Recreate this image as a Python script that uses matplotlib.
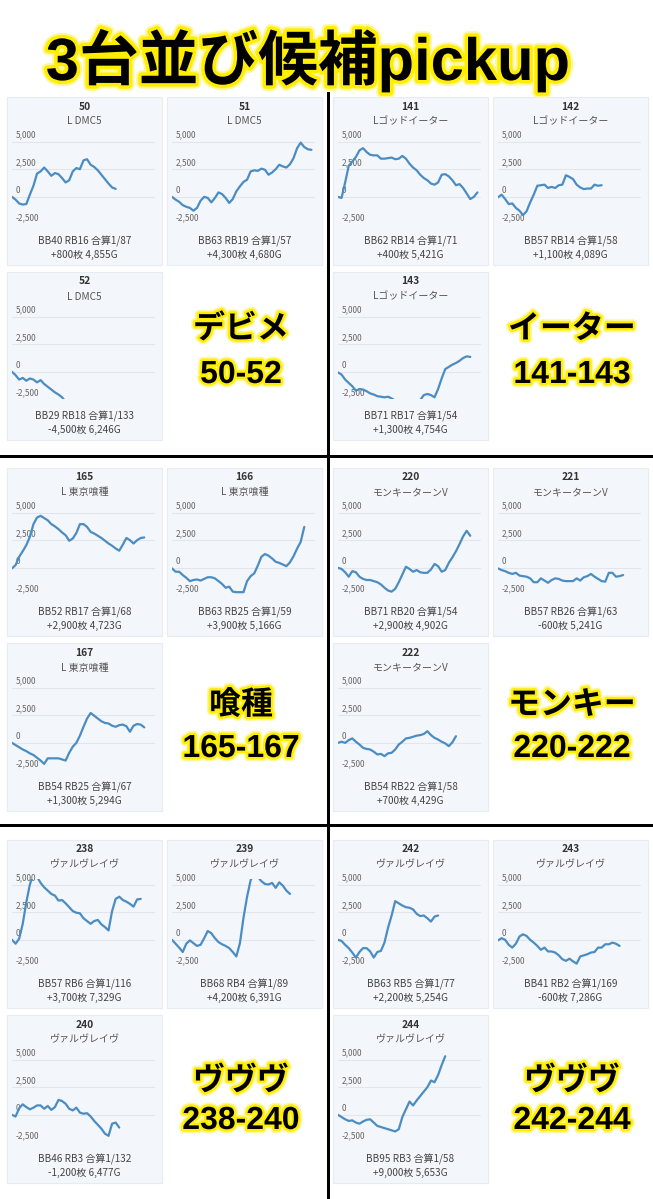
import matplotlib
matplotlib.use('Agg')
import matplotlib.pyplot as plt
import matplotlib.patheffects as pe
from matplotlib.patches import Rectangle
from matplotlib.lines import Line2D

plt.rcParams['font.family'] = ['Noto Sans CJK JP', 'DejaVu Sans']

# ---------------- data ----------------
title = '3台並び候補pickup'

machines = [50, 51, 52, 141, 142, 143, 165, 166, 167,
            220, 221, 222, 238, 239, 240, 242, 243, 244]
models = ['L DMC5'] * 3 + ['Lゴッドイーター'] * 3 + ['L 東京喰種'] * 3 + \
         ['モンキーターンV'] * 3 + ['ヴァルヴレイヴ'] * 6
bb = [40, 63, 29, 62, 57, 71, 52, 63, 54, 71, 57, 54, 57, 68, 46, 63, 41, 95]
rb = [16, 19, 18, 14, 14, 17, 17, 25, 25, 20, 26, 22, 6, 4, 3, 5, 2, 3]
gassan = [87, 57, 133, 71, 58, 54, 68, 59, 67, 54, 63, 58, 116, 89, 132, 77, 169, 58]
diff = [800, 4300, -4500, 400, 1100, 1300, 2900, 3900, 1300,
        2900, -600, 700, 3700, 4200, -1200, 2200, -600, 9000]
games = [4855, 4680, 6246, 5421, 4089, 4754, 4723, 5166, 5294,
         4902, 5241, 4429, 7329, 6391, 6477, 5254, 7286, 5653]

group_names = ['デビメ', 'イーター', '喰種', 'モンキー', 'ヴヴヴ', 'ヴヴヴ']
group_ranges = ['50-52', '141-143', '165-167', '220-222', '238-240', '242-244']

y_ticks = [-2500, 0, 2500, 5000]
y_tick_labels = ['-2,500', '0', '2,500', '5,000']

s50 = [0, -250, -600, -700, -650, 200, 1000, 2100, 2300, 2650, 2300, 1900, 2150, 2050, 1700,
       1300, 1500, 2300, 2600, 2500, 3300, 3400, 2900, 2700, 2400, 2000, 1600, 1200, 850, 720]
s51 = [0, -250, -450, -750, -900, -1000, -1250, -1000, -350, 0, -100, -500, -100, 400, 250,
       -100, -550, -200, 500, 950, 1350, 1550, 2300, 2400, 2350, 2550, 2450, 2000, 2200, 2500,
       2900, 2750, 2650, 2950, 3500, 4400, 4900, 4500, 4300, 4250]
s52 = [0, -300, -700, -550, -800, -600, -700, -950, -750, -1100, -1350, -1600, -1850, -2050,
       -2300, -2700, -3000, -3200, -3100, -3400, -3600, -3500, -3800, -3900, -4000, -4200,
       -4100, -4300, -4500, -4400, -4600, -4500]
s141 = [0, -100, 1300, 2800, 3200, 3600, 4200, 4400, 4050, 3800, 3750, 3750, 3450, 3450, 3500,
        3550, 3400, 3450, 3700, 3450, 3000, 2650, 2400, 2000, 1700, 1500, 1200, 1100, 1300, 2000,
        2050, 1850, 1500, 1050, 1150, 800, 300, -200, 0, 400]
s142 = [-50, 200, -200, -650, -600, -1000, -1250, -1650, -1300, -500, 200, 1000, 1050, 1100,
        800, 900, 800, 1050, 1100, 1950, 1800, 1600, 1100, 850, 700, 750, 750, 1100, 1000, 1050]
s143 = [-50, -250, -700, -1000, -1300, -1700, -1550, -1600, -1750, -1950, -2050, -2200, -2250,
        -2300, -2250, -2400, -2600, -2900, -3100, -3200, -3100, -2900, -2700, -2550, -2100,
        -2000, -2100, -2300, -1550, -600, 250, 450, 650, 800, 1000, 1250, 1400, 1350]
s165 = [-50, 250, 1000, 1500, 2050, 2800, 3950, 4550, 4700, 4500, 4300, 3950, 3750, 3500, 3200,
        2950, 2450, 2650, 3150, 3950, 3950, 3700, 3250, 3100, 2900, 2700, 2450, 2200, 2000, 1750,
        1550, 2100, 2700, 2500, 2200, 2500, 2700, 2750]
s166 = [-50, -350, -350, -650, -900, -1200, -1100, -1050, -1150, -1000, -850, -850, -950, -1200,
        -1450, -1800, -1700, -2150, -2200, -2200, -2200, -1200, -750, -500, 200, 1000, 1250,
        1100, 850, 550, 450, 300, 150, 500, 1050, 1750, 2350, 3700]
s167 = [0, -200, -400, -600, -750, -950, -1100, -1350, -1600, -1900, -1400, -1400, -1400, -1400,
        -1500, -1600, -900, -350, 0, 650, 1450, 2200, 2700, 2450, 2200, 1950, 1800, 1750, 1550,
        1450, 1600, 1650, 1500, 1000, 1550, 1700, 1650, 1400]
s220 = [0, -100, -400, -800, -300, -400, -800, -1000, -1100, -1100, -1200, -1300, -1500, -1800,
        -2050, -2150, -1900, -1300, -600, 100, -100, -350, -200, -400, -450, -450, -150, 350,
        150, -350, -200, 450, 950, 1500, 2150, 2850, 3350, 2900]
s221 = [-50, -200, -300, -450, -550, -450, -700, -750, -800, -950, -1300, -1300, -950, -1150,
        -1350, -1100, -950, -1000, -1150, -1200, -1200, -1200, -950, -1150, -850, -750, -550,
        -800, -1000, -1200, -1250, -450, -450, -800, -750, -650]
s222 = [0, 100, 0, 250, 400, 100, -150, -450, -550, -600, -800, -1050, -1000, -1200, -950, -900,
        -600, -150, 100, 400, 450, 550, 650, 700, 800, 1050, 700, 450, 300, 100, -50, -300, 50, 600]
s238 = [0, -350, 100, 1450, 3400, 5000, 6000, 5700, 5150, 4750, 4450, 4150, 4000, 3550, 3600,
        3300, 2950, 2600, 2450, 2400, 1950, 1700, 1450, 1700, 1800, 1400, 1150, 850, 2600, 3700,
        3900, 3600, 3450, 3250, 3000, 3650, 3700]
s239 = [0, -350, -700, -1100, -350, -50, -300, -550, -450, 150, 800, 600, 150, -200, -400, -550,
        -750, -1100, -1500, -300, 2000, 3900, 5400, 6000, 5700, 5300, 5050, 5000, 5150, 4700,
        5200, 4900, 4450, 4150]
s240 = [0, -150, 600, 950, 700, 500, 650, 850, 850, 550, 800, 450, 700, 1350, 1250, 1000, 550,
        400, 650, 200, 100, 150, -150, -550, -900, -1250, -1700, -1900, -800, -700, -1150]
s242 = [0, -100, -450, -750, -1150, -1600, -1100, -750, -750, -1050, -1600, -1100, -1000, -250,
        1100, 2200, 3500, 3300, 3100, 2950, 2900, 2750, 2350, 2150, 2200, 1950, 1650, 2100, 2200]
s243 = [-50, 150, 0, -450, -700, -350, 300, 500, 350, 0, -250, -550, -900, -700, -1050, -1050,
        -1150, -1400, -1750, -1900, -1700, -1950, -2150, -1500, -1400, -1300, -1150, -1100, -700,
        -700, -400, -400, -250, -350, -550]
s244 = [0, -200, -400, -550, -500, -700, -800, -600, -450, -400, -700, -1000, -1100, -1200,
        -1300, -1400, -1500, -1300, -200, 500, 1200, 850, 1300, 1700, 2100, 2500, 3100, 2950,
        3600, 4500, 5300]

series = [s50, s51, s52, s141, s142, s143, s165, s166, s167,
          s220, s221, s222, s238, s239, s240, s242, s243, s244]

X_STEPS = 40

# ---------------- layout (pixels) ----------------
W, H = 653, 1199
cols_x = [7, 167, 333, 493]
rows_y = [97, 272, 468, 643, 840, 1015]
PW, PH = 155, 168
label_x = [241, 572]
label_y = [(330, 375), (706, 749), (1082, 1121)]

LINE_C = '#4b8dc3'
BG_C = '#f3f6fa'
GRID_C = '#e2e6ec'
BIG_FONT = ['Liberation Sans', 'Noto Sans CJK JP']
GLOW = [pe.withStroke(linewidth=6, foreground='#fff7a0'),
        pe.withStroke(linewidth=3.5, foreground='#ffee00')]


def fx(x):
    return x / W


def fy(y):
    return 1 - y / H


fig = plt.figure(figsize=(W / 100, H / 100), dpi=100)
fig.patch.set_facecolor('white')

# title
fig.text(fx(308), fy(80), title, ha='center', va='baseline', fontsize=43,
         fontweight='bold', color='black', family=BIG_FONT,
         path_effects=[pe.withStroke(linewidth=8, foreground='#fff7a0'),
                       pe.withStroke(linewidth=5, foreground='#ffee00')])


def draw_panel(i, x, y):
    fig.add_artist(Rectangle((fx(x), fy(y + PH)), PW / W, PH / H, transform=fig.transFigure,
                             facecolor=BG_C, edgecolor='#e7ecf2', linewidth=0.8, zorder=0))
    cx = x + PW / 2
    fig.text(fx(cx), fy(y + 9.5), str(machines[i]), ha='center', va='center',
             fontsize=7.4, fontweight='bold', color='#333333')
    fig.text(fx(cx), fy(y + 24.5), models[i], ha='center', va='center',
             fontsize=7.2, color='#555555')
    fig.text(fx(cx), fy(y + 144), f'BB{bb[i]} RB{rb[i]} 合算1/{gassan[i]}',
             ha='center', va='center', fontsize=7.2, color='#444444')
    fig.text(fx(cx), fy(y + 157.5), f'{diff[i]:+,}枚 {games[i]:,}G',
             ha='center', va='center', fontsize=7.2, color='#444444')
    ax = fig.add_axes([fx(x + 5), fy(y + 127.5), 143 / W, 88.5 / H])
    ax.set_xlim(0, X_STEPS)
    ax.set_ylim(-2500, 5500)
    ax.axis('off')
    for t, lab in zip(y_ticks, y_tick_labels):
        ax.axhline(t, color=GRID_C, linewidth=0.8, zorder=1)
        ax.text(4 / 143, t + 180, lab, transform=ax.get_yaxis_transform(), ha='left',
                va='bottom', fontsize=6, color='#666666', zorder=1, clip_on=False)
    s = series[i]
    ax.plot(range(len(s)), s, color=LINE_C, linewidth=1.6, zorder=3,
            solid_joinstyle='round', solid_capstyle='round')


for g in range(6):
    band, half = divmod(g, 2)
    slots = [(2 * half, 2 * band), (2 * half + 1, 2 * band), (2 * half, 2 * band + 1)]
    for k, (c, r) in enumerate(slots):
        draw_panel(3 * g + k, cols_x[c], rows_y[r])
    ly1, ly2 = label_y[band]
    for txt, yy in ((group_names[g], ly1), (group_ranges[g], ly2)):
        fig.text(fx(label_x[half]), fy(yy), txt, ha='center', va='center', fontsize=23,
                 fontweight='bold', color='black', family=BIG_FONT, path_effects=GLOW)

# dividers
lw_div = 3 * 0.72
fig.add_artist(Line2D([fx(328), fx(328)], [fy(93), fy(1199)], color='black', linewidth=lw_div,
                      transform=fig.transFigure))
for yy in (456, 825):
    fig.add_artist(Line2D([0, 1], [fy(yy), fy(yy)], color='black', linewidth=lw_div,
                          transform=fig.transFigure))

fig.savefig('out.png', dpi=100, facecolor='white')
